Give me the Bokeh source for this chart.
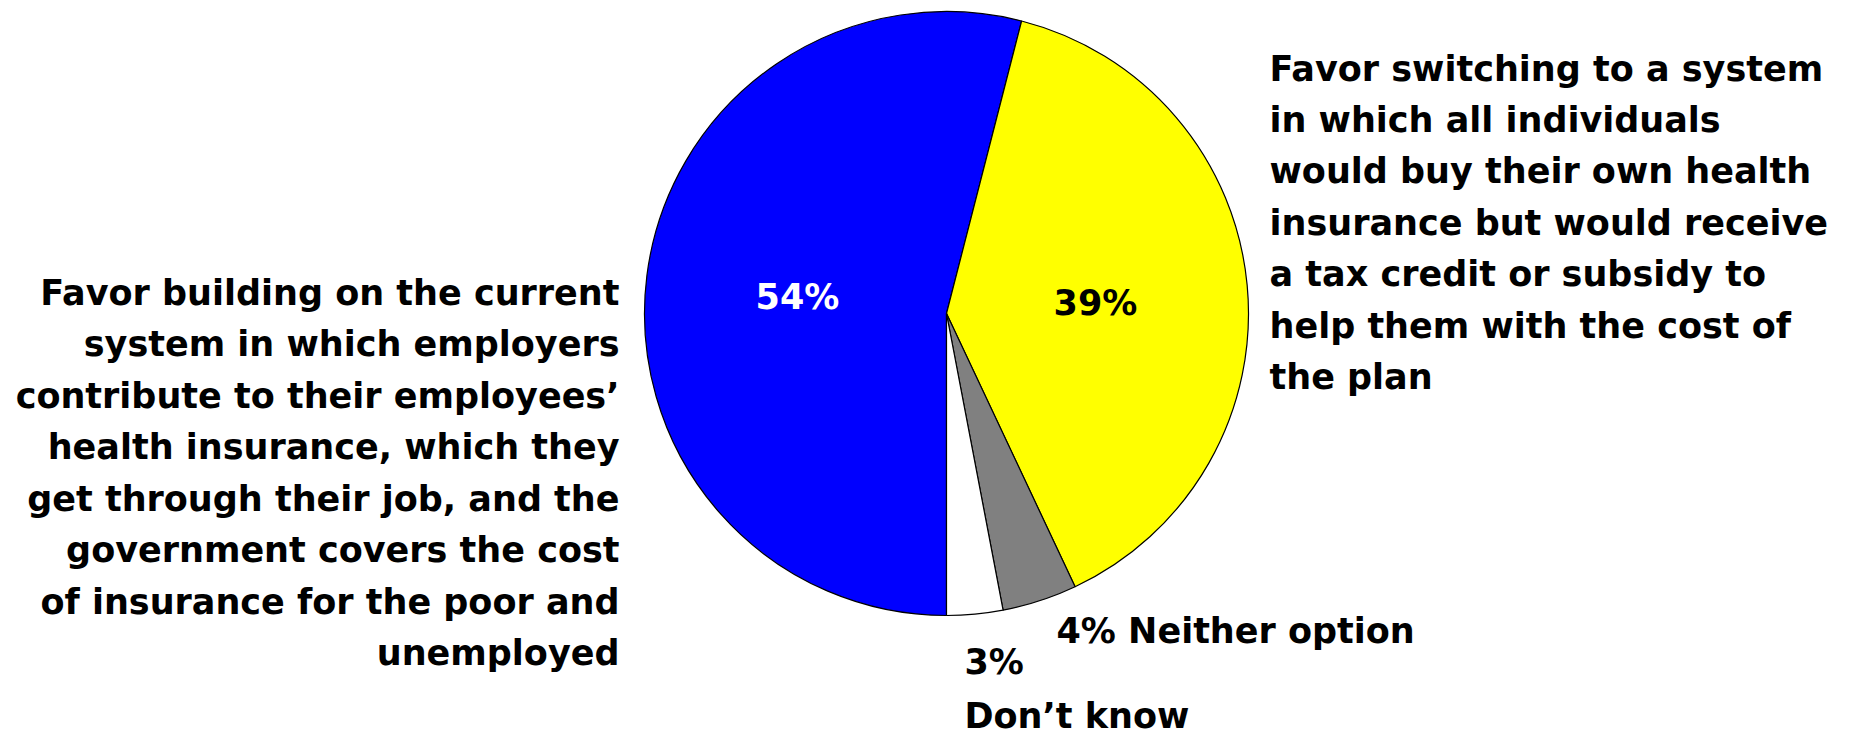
import math
from bokeh.plotting import figure
from bokeh.models import Range1d, ColumnDataSource
from bokeh.core.properties import value
from bokeh.embed import file_html
from bokeh.resources import INLINE

# ---- data ----
categories = ["Favor building on current system", "Favor switching to individual system",
              "Neither option", "Don't know"]
percents = [54, 39, 4, 3]
colors = ["#0000FF", "#FFFF00", "#808080", "#FFFFFF"]
slice_labels = ["54%", "39%"]
slice_label_colors = ["white", "black"]

left_lines = [
    "Favor building on the current",
    "system in which employers",
    "contribute to their employees\u2019",
    "health insurance, which they",
    "get through their job, and the",
    "government covers the cost",
    "of insurance for the poor and",
    "unemployed",
]
right_lines = [
    "Favor switching to a system",
    "in which all individuals",
    "would buy their own health",
    "insurance but would receive",
    "a tax credit or subsidy to",
    "help them with the cost of",
    "the plan",
]
neither_label = "4% Neither option"
dk_lines = ["3%", "Don\u2019t know"]

# ---- layout ----
W, H = 1860, 734
CX, CY, R = 946, 313, 302
START_CW = 180.0  # slices start at 6 o'clock, going clockwise
FONT = value("DejaVu Sans")
FS = "35px"

def Y(py):
    return H - py

p = figure(width=W, height=H, output_backend="svg", toolbar_location=None,
           x_range=Range1d(0, W), y_range=Range1d(0, H),
           x_axis_location=None, y_axis_location=None, min_border=0)
p.grid.visible = False
p.outline_line_color = None
p.background_fill_color = "white"
p.border_fill_color = "white"

# wedges
total = float(sum(percents))
starts, ends = [], []
cum = START_CW
for v in percents:
    a = cum
    b = cum + v / total * 360.0
    # clockwise-from-top angles -> bokeh anticlockwise-from-x
    starts.append(math.radians(90 - b))
    ends.append(math.radians(90 - a))
    cum = b
src = ColumnDataSource(dict(x=[CX] * len(percents), y=[Y(CY)] * len(percents),
                            s=starts, e=ends, c=colors, cat=categories))
p.wedge(x="x", y="y", radius=R, start_angle="s", end_angle="e",
        fill_color="c", line_color="black", line_width=1.2, source=src)

# in-slice labels
p.text(x=[797, 1095], y=[Y(296), Y(302)], text=slice_labels,
       text_color=slice_label_colors, text_font=FONT, text_font_style="bold",
       text_font_size=FS, text_align="center", text_baseline="alphabetic")

# left category text (right aligned)
LS = 51.5
p.text(x=[619] * len(left_lines), y=[Y(292 + i * LS) for i in range(len(left_lines))],
       text=left_lines, text_color="black", text_font=FONT, text_font_style="bold",
       text_font_size=FS, text_align="right", text_baseline="alphabetic")

# right category text (left aligned)
RS = 51.4
p.text(x=[1269] * len(right_lines), y=[Y(68 + i * RS) for i in range(len(right_lines))],
       text=right_lines, text_color="black", text_font=FONT, text_font_style="bold",
       text_font_size=FS, text_align="left", text_baseline="alphabetic")

# small slice labels
p.text(x=[1056], y=[Y(630)], text=[neither_label], text_color="black",
       text_font=FONT, text_font_style="bold", text_font_size=FS,
       text_align="left", text_baseline="alphabetic")
p.text(x=[964, 964], y=[Y(661), Y(715)], text=dk_lines, text_color="black",
       text_font=FONT, text_font_style="bold", text_font_size=FS,
       text_align="left", text_baseline="alphabetic")

open("out.html", "w").write(file_html(p, INLINE))
